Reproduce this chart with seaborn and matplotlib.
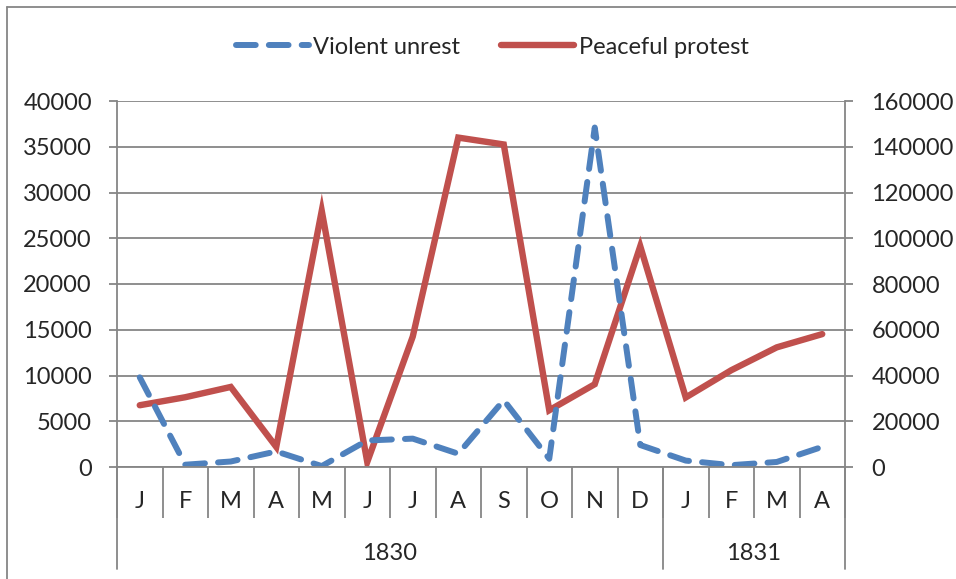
import numpy as np
import pandas as pd
import matplotlib
matplotlib.use("Agg")
import matplotlib.pyplot as plt
import matplotlib.transforms as mtransforms
from matplotlib.lines import Line2D
import seaborn as sns

months = ["J", "F", "M", "A", "M", "J", "J", "A", "S", "O", "N", "D", "J", "F", "M", "A"]
years = ["1830", "1831"]
year_lengths = [12, 4]
violent = [9800, 250, 600, 1700, 100, 2900, 3100, 1450, 7300, 900, 37100, 2400, 700, 200, 550, 2200]
peaceful = [27000, 30500, 35000, 8800, 112000, 2200, 57000, 144000, 141000, 24800, 36200, 96500,
            30400, 42300, 52300, 58100]

df = pd.DataFrame({"pos": np.arange(len(months)), "violent": violent, "peaceful": peaceful})

sns.set_theme(style="white")
plt.rcParams["font.family"] = ["Lato", "DejaVu Sans"]
fs = 17

grey = "#868686"
blue = "#4F81BD"
red = "#C0504D"

fig = plt.figure(figsize=(9.56, 5.79), dpi=100)
ax = fig.add_axes([117 / 956, 1 - 467 / 579, 728 / 956, 366 / 579])
ax2 = ax.twinx()

# grid lives on the secondary axis so both lines sit above it
ax2.set_zorder(1)
ax.set_zorder(2)
ax.patch.set_visible(False)

sns.lineplot(data=df, x="pos", y="peaceful", ax=ax2, color=red, lw=4.6,
             solid_capstyle="round", solid_joinstyle="miter", label="Peaceful protest", legend=False)
sns.lineplot(data=df, x="pos", y="violent", ax=ax, color=blue, lw=4.3,
             linestyle=(0, (3.3, 2.2)), dash_capstyle="round", dash_joinstyle="round",
             label="Violent unrest", legend=False)

ax.set_xlim(-0.5, len(months) - 0.5)
ax.set_ylim(0, 40000)
ax2.set_ylim(0, 160000)
ax.set_yticks(np.arange(0, 40001, 5000))
ax2.set_yticks(np.arange(0, 160001, 20000))
ax2.yaxis.grid(True, color=grey, lw=1.3)
ax.set_xlabel("")
ax.set_ylabel("")
ax2.set_ylabel("")

for a in (ax, ax2):
    for s in a.spines.values():
        s.set_visible(False)
ax.spines["left"].set_visible(True)
ax.spines["bottom"].set_visible(True)
ax2.spines["right"].set_visible(True)
for s in (ax.spines["left"], ax.spines["bottom"], ax2.spines["right"]):
    s.set_color(grey)
    s.set_linewidth(1.3)

ax.tick_params(axis="y", which="major", length=6, width=1.3, color=grey, pad=12,
               labelsize=fs, left=True)
ax2.tick_params(axis="y", which="major", length=6, width=1.3, color=grey, pad=13,
                labelsize=fs, right=True)

ax.set_xticks(np.arange(len(months)))
ax.set_xticklabels(months)
ax.set_xticks(np.arange(-0.5, len(months), 1), minor=True)
ax.tick_params(axis="x", which="major", length=0, pad=17, labelsize=fs)
ax.tick_params(axis="x", which="minor", length=37, width=1.3, color=grey, bottom=True)

# year group separators and labels
trans = mtransforms.blended_transform_factory(ax.transData, ax.transAxes)
edges = np.concatenate([[0], np.cumsum(year_lengths)]) - 0.5
for e in edges:
    ax.plot([e, e], [0, -102 / 366], transform=trans, color=grey, lw=1.3, clip_on=False)
for i, y in enumerate(years):
    ax.text((edges[i] + edges[i + 1]) / 2, -86 / 366, y, transform=trans,
            ha="center", va="center", fontsize=fs)

h1, l1 = ax.get_legend_handles_labels()
h2, l2 = ax2.get_legend_handles_labels()
fig.legend(h1 + h2, l1 + l2, loc="center", bbox_to_anchor=(492 / 956, 1 - 47 / 579),
           ncol=2, frameon=False, fontsize=fs, handlelength=3.1, handletextpad=0.2,
           columnspacing=1.7)

# chart frame (cropped at right and bottom)
fig.add_artist(Line2D([7 / 956, 7 / 956], [0, 1 - 7 / 579], color=grey, lw=1.3))
fig.add_artist(Line2D([7 / 956, 1], [1 - 7 / 579, 1 - 7 / 579], color=grey, lw=1.3))

fig.savefig("out.png", dpi=100)
